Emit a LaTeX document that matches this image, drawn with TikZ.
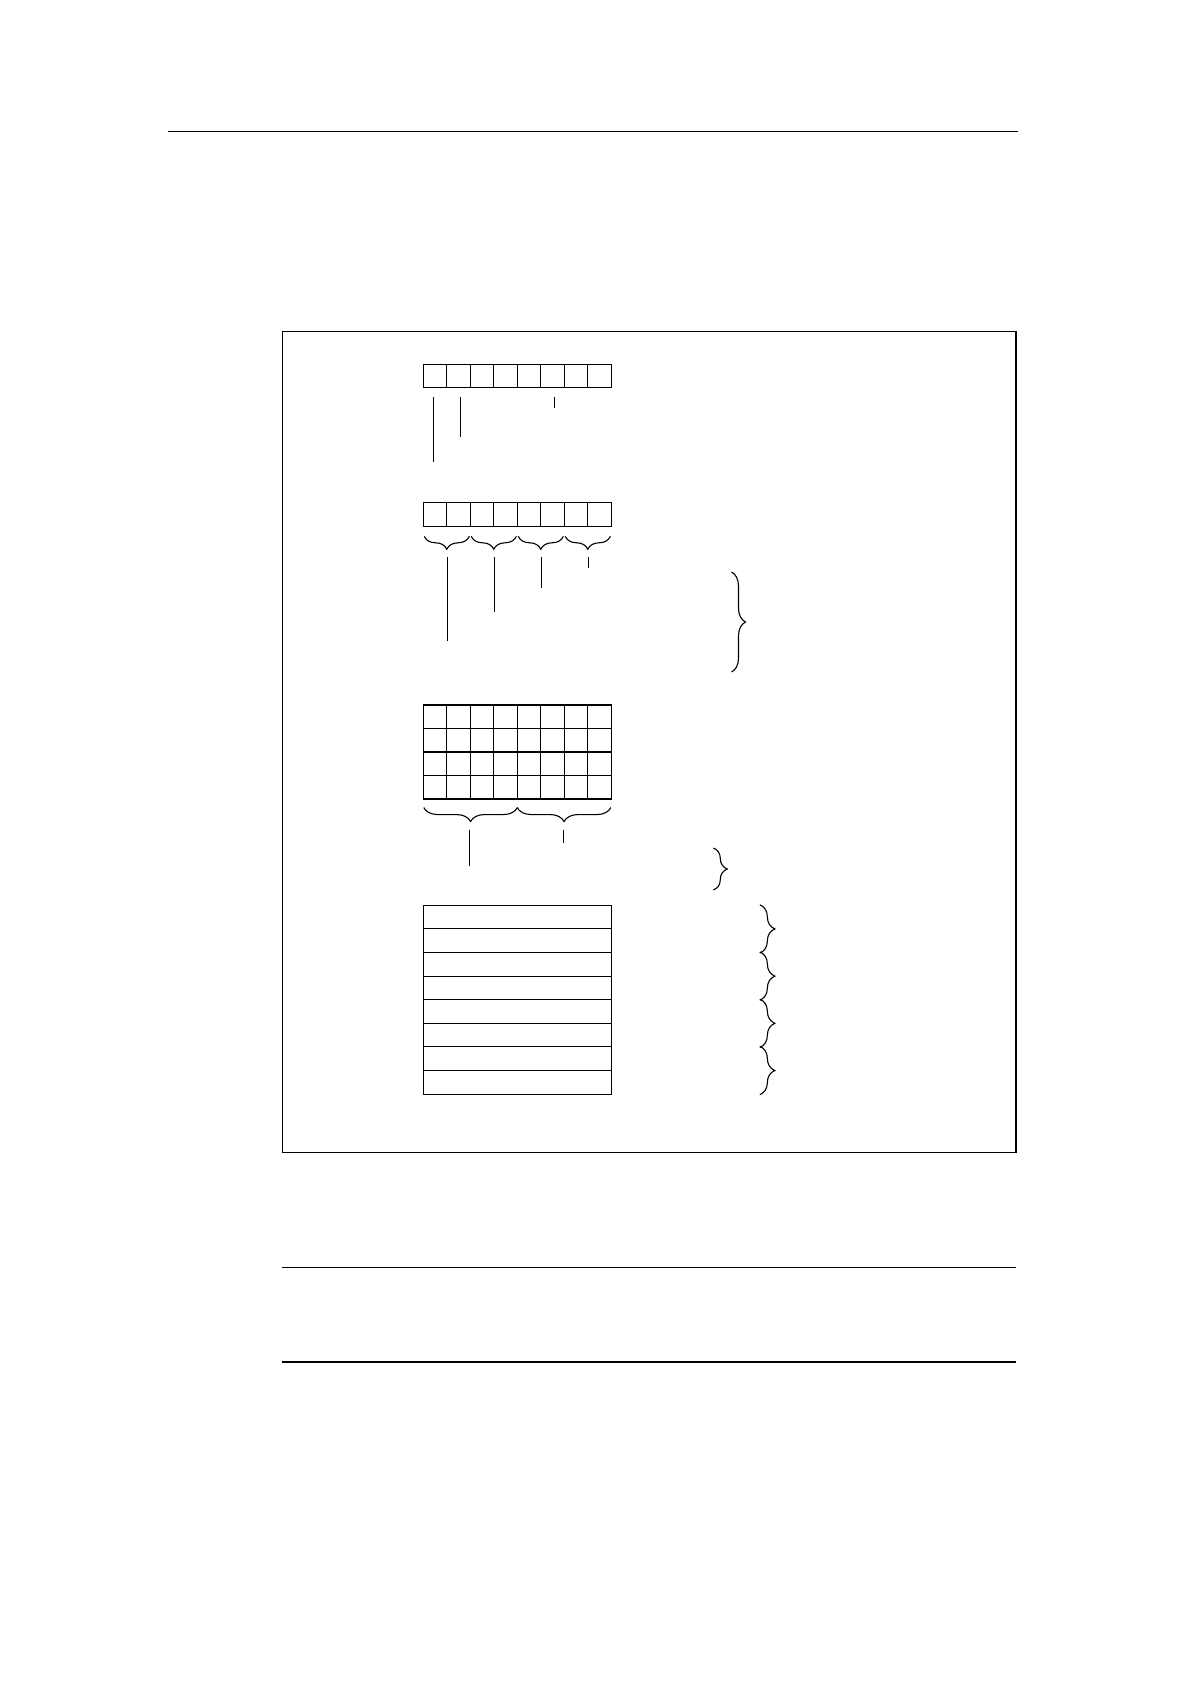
\documentclass[tikz,border=0pt]{standalone}
\usetikzlibrary{decorations.pathreplacing}
\tikzset{>=latex,
  cell/.style={draw,line width=1.1,inner sep=0,minimum width=23.5pt,minimum height=23.5pt},
  slot/.style={draw,line width=1.1,inner sep=0,minimum width=188pt,minimum height=23.6pt},
  bracedown/.style={decorate,decoration={brace,mirror,amplitude=#1},line width=1.1},
  braceright/.style={decorate,decoration={brace,amplitude=#1},line width=1.1}
}

\begin{document}
\begin{tikzpicture}[x=1pt,y=-1pt]
  \useasboundingbox (0,0) rectangle (1190,1684);
  % Page rules and frame
  \draw[line width=1.5] (168,131.6) -- (1018,131.6);
  \draw[line width=1.2] (282.5,331.7) rectangle (1016,1152.5);
  \draw[line width=1.5] (282,1267.5) -- (1016,1267.5);
  \draw[line width=1.5] (282,1362) -- (1016,1362);

  % First byte
  \foreach \i in {1,...,8}
    \node[cell] (ra\i) at ({435.05+23.5*(\i-1)}, 375.8) {};
  \draw[line width=1.1] ([xshift=-1.5pt,yshift=-9pt]ra1.south) -- ++(0,65);
  \draw[line width=1.1] ([xshift=1.5pt,yshift=-9pt]ra2.south) -- ++(0,40);
  \draw[line width=1.1] ([xshift=1.5pt,yshift=-9pt]ra6.south) -- ++(0,11);

  % Second byte, split in pairs
  \foreach \i in {1,...,8}
    \node[cell] (rb\i) at ({435.05+23.5*(\i-1)}, 514.5) {};
  \foreach \a/\b/\len in {1/2/84, 3/4/55, 5/6/31, 7/8/11} {
    \draw[bracedown=13] ([xshift=1.5pt,yshift=-9.5pt]rb\a.south west) -- ([xshift=-1.5pt,yshift=-9.5pt]rb\b.south east);
    \draw[line width=1.1] ([yshift=-30.5pt]rb\a.south east) -- ++(0,\len);
  }
  \draw[braceright=14] (731.5,572) -- (731.5,672);

  % Block of four bytes
  \foreach \j in {1,...,4}
    \foreach \i in {1,...,8}
      \node[cell] (g\j-\i) at ({435.05+23.5*(\i-1)}, {716.75+23.5*(\j-1)}) {};
  \draw[bracedown=14] ([xshift=1pt,yshift=-8pt]g4-1.south west) -- ([xshift=-0.5pt,yshift=-8pt]g4-4.south east);
  \draw[bracedown=14] ([xshift=0.5pt,yshift=-8pt]g4-5.south west) -- ([xshift=-1pt,yshift=-8pt]g4-8.south east);
  \draw[line width=1.1] ([xshift=-1pt,yshift=-30pt]g4-2.south east) -- ++(0,36);
  \draw[line width=1.1] ([xshift=-1pt,yshift=-30pt]g4-6.south east) -- ++(0,13);
  \draw[braceright=14] (713.3,848) -- (713.3,890);

  % Stack of words
  \foreach \k in {1,...,8}
    \node[slot] (s\k) at (517.3, {905.3+11.8+23.6*(\k-1)}) {};
  \foreach \k/\m in {1/2, 3/4, 5/6, 7/8}
    \draw[braceright=15] ([xshift=148pt]s\k.north east) -- ([xshift=148pt]s\m.south east);
\end{tikzpicture}
\end{document}
